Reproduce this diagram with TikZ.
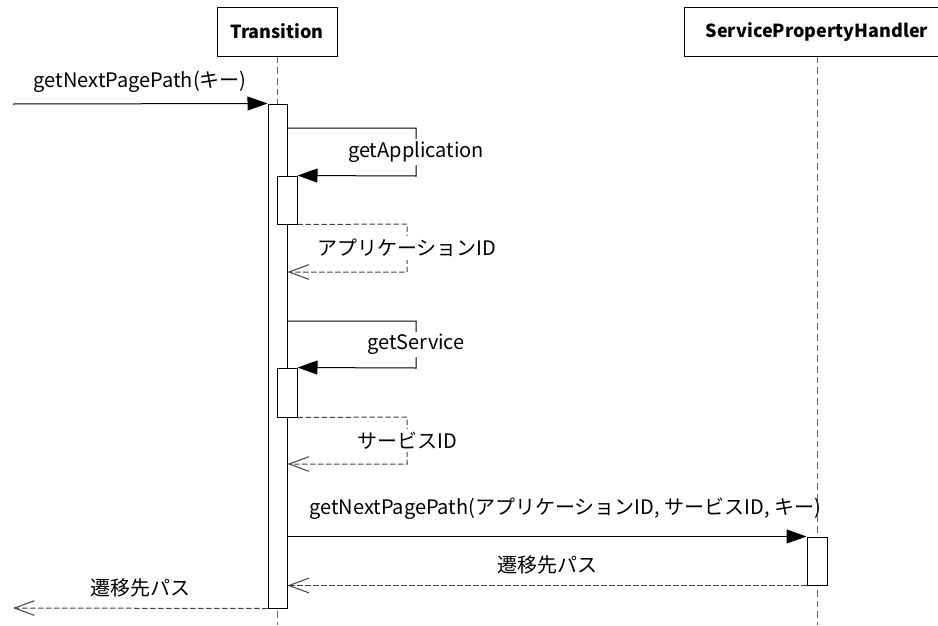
\documentclass[tikz,border=0pt]{standalone}
\usepackage{fontspec}
\setmainfont{Noto Sans CJK JP}
\usetikzlibrary{arrows.meta}

\begin{document}
\begin{tikzpicture}[x=0.75pt, y=-0.75pt, line width=0.75pt,
    every node/.style={font=\fontsize{15}{17}\selectfont, text=black},
    head/.style={draw, rectangle, minimum height=36.75pt, font=\fontsize{13.5}{15}\selectfont\bfseries},
    lifeline/.style={dash pattern=on 5pt off 3pt, black!60},
    bar/.style={draw, fill=white, minimum width=15pt, inner sep=0pt},
    call/.style={-{Triangle[length=15pt, width=10.5pt]}},
    reply/.style={dash pattern=on 4pt off 2pt, black!75, -{Straight Barb[length=15pt, width=11pt]}},
    lbl/.style={fill=white, inner sep=2pt}]
    \clip (0,0) rectangle (938,625);
    % heads
    \node[head, minimum width=90pt] (trans) at (277,31.5) {Transition};
    \node[head, minimum width=199.5pt] (sph) at (817,31.5) {ServicePropertyHandler};
    % lifelines
    \coordinate (tend) at (277,625);
    \coordinate (send) at (817,625);
    \draw[lifeline] (trans) -- (tend);
    \draw[lifeline] (sph) -- (send);
    % activation bars
    \node[bar, minimum width=14.25pt, minimum height=378pt] (tbar) at (277.5,356) {};
    \node[bar, minimum height=36pt] (abar) at (287,200) {};
    \node[bar, minimum height=36.75pt] (sbar) at (287,392.5) {};
    \node[bar, minimum height=36pt] (pbar) at (817,561) {};
    % messages
    \coordinate (caller) at (13,104);
    \coordinate (back) at (13,608);
    \draw[call] (caller) -- node[above=5pt] {getNextPagePath(キー)} (tbar.north west);
    \coordinate (a1) at (416,128);
    \coordinate (a2) at (416,176);
    \draw[call] (tbar.east |- a1) -- (a1) -- node[lbl] {getApplication} (a2) -- (abar.north east);
    \coordinate (r1) at (407,224);
    \coordinate (r2) at (407,272);
    \draw[reply] (abar.south east) -- (r1) -- node[lbl] {アプリケーションID} (r2) -- (tbar.east |- r2);
    \coordinate (s1) at (416,321);
    \coordinate (s2) at (416,368);
    \draw[call] (tbar.east |- s1) -- (s1) -- node[lbl] {getService} (s2) -- (sbar.north east);
    \coordinate (q1) at (407,417);
    \coordinate (q2) at (407,464);
    \draw[reply] (sbar.south east) -- (q1) -- node[lbl] {サービスID} (q2) -- (tbar.east |- q2);
    \draw[call] (tbar.east |- pbar.north) -- node[above=9pt, pos=.535] {getNextPagePath(アプリケーションID, サービスID, キー)} (pbar.north west);
    \draw[reply] (pbar.south west) -- node[above=4.5pt] {遷移先パス} (tbar.east |- pbar.south);
    \draw[reply] (tbar.south west) -- node[above=4.5pt] {遷移先パス} (back);
\end{tikzpicture}
\end{document}
